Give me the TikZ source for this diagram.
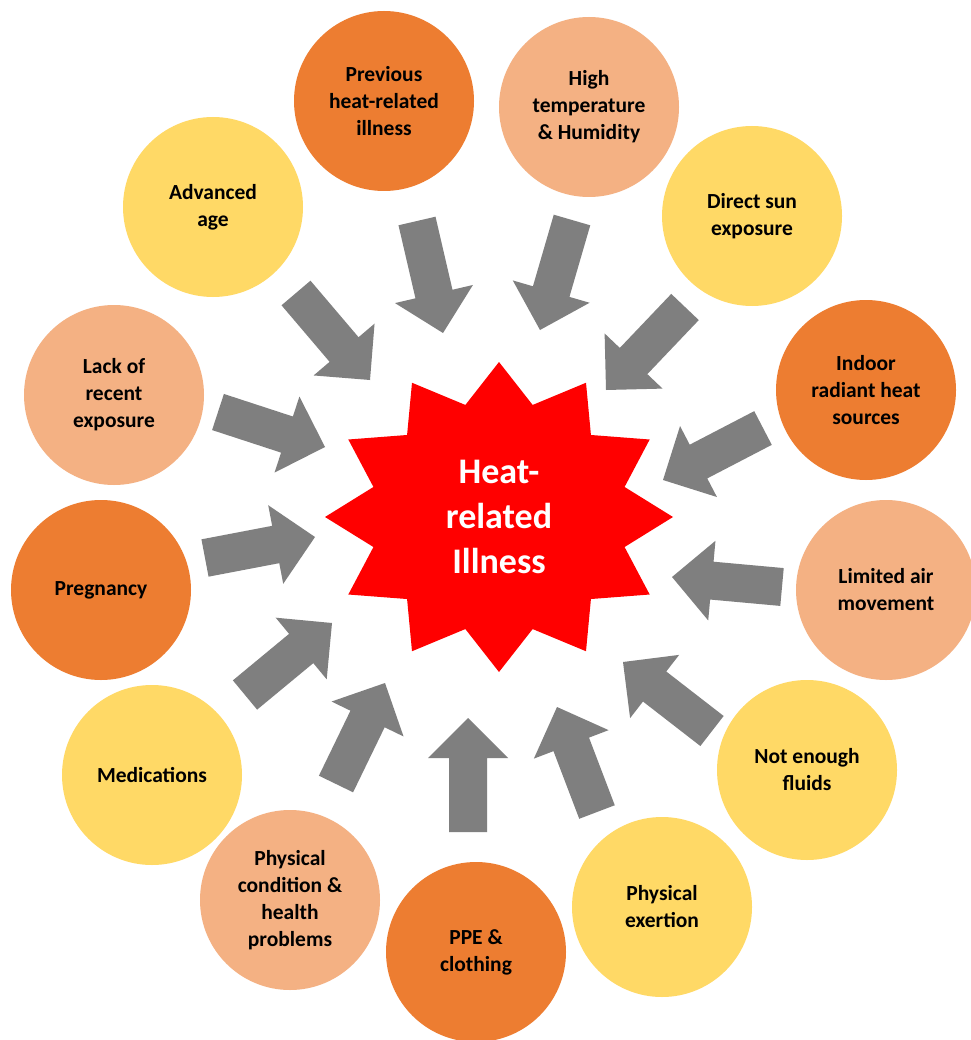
\documentclass[tikz,border=0pt]{standalone}
\usepackage{fontspec}
\setmainfont{Carlito}
\usetikzlibrary{calc}

\definecolor{darkorange}{HTML}{ED7D31}
\definecolor{peach}{HTML}{F4B183}
\definecolor{gold}{HTML}{FFD966}
\definecolor{arrowgrey}{HTML}{7F7F7F}
\definecolor{starred}{HTML}{FF0000}

% Block arrow from tail centre #1 to tip #2
\newcommand{\blockarrow}[2]{%
  \coordinate (neck) at ($(#2)!40pt!(#1)$);
  \fill[arrowgrey]
    ($(#1)!19pt!90:(#2)$) -- ($(neck)!19pt!-90:(#1)$) -- ($(neck)!40pt!-90:(#1)$) -- (#2)
    -- ($(neck)!40pt!90:(#1)$) -- ($(neck)!19pt!90:(#1)$) -- ($(#1)!19pt!-90:(#2)$) -- cycle;}

\begin{document}
\begin{tikzpicture}[x=1pt,y=-1pt,
  factor/.style={circle, minimum size=180pt, inner sep=0pt, align=center, text=black,
                 font=\bfseries\fontsize{21.5}{27}\selectfont},
  hot/.style={factor, fill=darkorange},
  warm/.style={factor, fill=peach},
  mild/.style={factor, fill=gold},
  centre/.style={align=center, text=white, font=\bfseries\fontsize{36}{45}\selectfont}]

\fill[white] (0,0) rectangle (970,1040);
\useasboundingbox (0,0) rectangle (970,1040);

% twelve-pointed burst
\fill[starred] (673,517)
  \foreach \i in {1,...,23} {
    -- ({499 + (mod(\i,2)==0 ? 174 : 130)*cos(15*\i)}, {517 - (mod(\i,2)==0 ? 155 : 116)*sin(15*\i)})
  } -- cycle;
\node[centre] (star) at (499,517) {Heat-\\related\\Illness};

% risk factors
\node[hot]  (prev)    at (384,101) {Previous\\heat-related\\illness};
\node[warm] (hightemp) at (589,107) {High\\temperature\\\& Humidity};
\node[mild] (sun)     at (752,216) {Direct sun\\exposure};
\node[hot]  (indoor)  at (866,390) {Indoor\\radiant heat\\sources};
\node[warm] (air)     at (886,590) {Limited air\\movement};
\node[mild] (fluids)  at (807,770) {Not enough\\fluids};
\node[mild] (exert)   at (662,907) {Physical\\exertion};
\node[hot]  (ppe)     at (476,952) {PPE \&\\clothing};
\node[warm] (health)  at (290,900) {Physical\\condition \&\\health\\problems};
\node[mild] (meds)    at (152,775) {Medications};
\node[hot]  (preg)    at (101,590) {Pregnancy};
\node[warm] (lack)    at (114,395) {Lack of\\recent\\exposure};
\node[mild] (age)     at (213,207) {Advanced\\age};

% arrow tails and tips
\coordinate (t1)  at (296,293); \coordinate (h1)  at (370,380);
\coordinate (t2)  at (218,412); \coordinate (h2)  at (325,447);
\coordinate (t3)  at (205,558); \coordinate (h3)  at (315,537);
\coordinate (t4)  at (245,695); \coordinate (h4)  at (332,623);
\coordinate (t5)  at (336,784); \coordinate (h5)  at (385,683);
\coordinate (t6)  at (468,832); \coordinate (h6)  at (468,718);
\coordinate (t7)  at (597,812); \coordinate (h7)  at (557,707);
\coordinate (t8)  at (712,731); \coordinate (h8)  at (623,662);
\coordinate (t9)  at (782,587); \coordinate (h9)  at (672,577);
\coordinate (t10) at (763,428); \coordinate (h10) at (663,480);
\coordinate (t11) at (685,307); \coordinate (h11) at (606,390);
\coordinate (t12) at (572,220); \coordinate (h12) at (540,330);
\coordinate (t13) at (417,221); \coordinate (h13) at (443,333);

\foreach \k in {1,...,13} { \blockarrow{t\k}{h\k} }

\end{tikzpicture}
\end{document}
